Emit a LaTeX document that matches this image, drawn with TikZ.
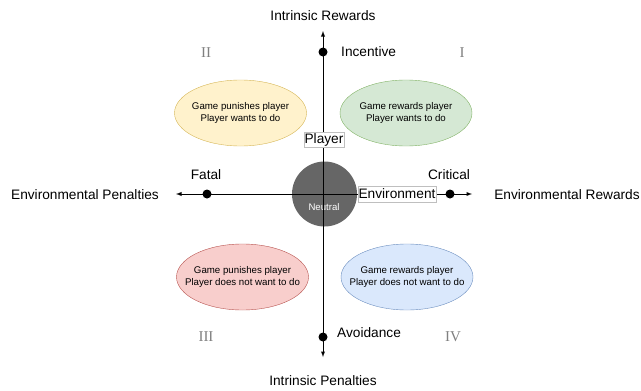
\documentclass[tikz,border=0pt]{standalone}
\usepackage{fontspec}
\setmainfont{Liberation Sans}
\newfontfamily\numfont{Liberation Serif}
\usetikzlibrary{shapes.geometric}
\definecolor{yelfill}{HTML}{FFF2CC}\definecolor{yelline}{HTML}{D6B656}
\definecolor{grnfill}{HTML}{D5E8D4}\definecolor{grnline}{HTML}{82B366}
\definecolor{redfill}{HTML}{F8CECC}\definecolor{redline}{HTML}{B85450}
\definecolor{blufill}{HTML}{DAE8FC}\definecolor{bluline}{HTML}{6C8EBF}
\definecolor{neutral}{HTML}{666666}
\definecolor{numgray}{HTML}{808080}
\tikzset{
  quadrant/.style 2 args={ellipse,draw=#2,fill=#1,minimum width=132pt,minimum height=66pt,
    inner sep=0pt},
  qtext/.style={inner sep=0pt,align=center,font=\fontsize{9.7}{11.5}\selectfont},
  label/.style={inner sep=0pt,font=\fontsize{13.7}{16}\selectfont},
  numeral/.style={inner sep=0pt,text=numgray,font=\numfont\fontsize{15}{18}\selectfont},
  dot/.style={circle,fill=black,inner sep=0pt,minimum size=9pt},
  tag/.style={draw=black!25,fill=white,inner sep=0.5pt,font=\fontsize{13.7}{16}\selectfont}
}
\begin{document}
\begin{tikzpicture}[x=1pt,y=-1pt]
\useasboundingbox (0,0) rectangle (641,391);
\pgfmathsetmacro{\cx}{323}
\pgfmathsetmacro{\cy}{194}
\node[circle,fill=neutral,minimum size=65pt,inner sep=0pt](neu)at(\cx+1.5,\cy){};
\node[text=white,inner sep=0pt,font=\fontsize{9.6}{11}\selectfont]at(\cx+1,207){Neutral};
\node[quadrant={yelfill}{yelline}](q2)at(240.5,113){};
\node[quadrant={grnfill}{grnline}](q1)at(406,113){};
\node[quadrant={redfill}{redline}](q3)at(242.5,277){};
\node[quadrant={blufill}{bluline}](q4)at(407,277){};
\node[qtext]at(q2){Game punishes player\\Player wants to do};
\node[qtext]at(q1){Game rewards player\\Player wants to do};
\node[qtext]at(q3){Game punishes player\\Player does not want to do};
\node[qtext]at(q4){Game rewards player\\Player does not want to do};
\coordinate(top)at(\cx,31);
\coordinate(bot)at(\cx,357);
\coordinate(lft)at(176,\cy);
\coordinate(rgt)at(472,\cy);
\draw[line width=0.9pt,latex-latex](bot)--(top);
\draw[line width=0.9pt,latex-latex](lft)--(rgt);
\node[dot](inc)at(\cx,52){};
\node[dot](avo)at(\cx,337){};
\node[dot](fat)at(207,\cy){};
\node[dot](cri)at(450,\cy){};
\node[tag,minimum width=40pt,minimum height=15pt](ply)at(324,139.5){Player};
\node[tag,minimum width=78pt,minimum height=16pt](env)at(397,\cy){Environment};
\node[label](irw)at(\cx,16){Intrinsic Rewards};
\node[label](ipn)at(\cx,381){Intrinsic Penalties};
\node[label](epn)at(85,195){Environmental Penalties};
\node[label](erw)at(567,195){Environmental Rewards};
\node[label](fatl)at(206,175){Fatal};
\node[label](cril)at(449,175){Critical};
\node[label,anchor=west](incl)at(341,52){Incentive};
\node[label,anchor=west](avol)at(337,333){Avoidance};
\node[numeral]at(206,53){II};
\node[numeral]at(462,53){I};
\node[numeral]at(206,337){III};
\node[numeral]at(453,337){IV};
\end{tikzpicture}
\end{document}
